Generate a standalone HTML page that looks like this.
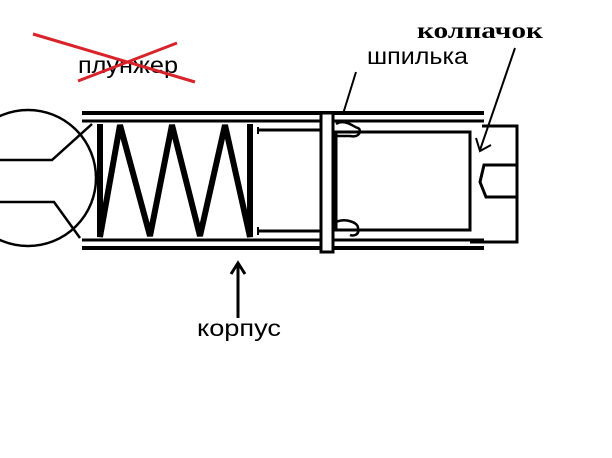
<!DOCTYPE html>
<html><head><meta charset="utf-8"><style>
html,body{margin:0;padding:0;background:#fff;width:612px;height:458px;overflow:hidden}
text{font-family:"Liberation Sans",sans-serif}
</style></head><body>
<svg width="612" height="458" viewBox="0 0 612 458" xmlns="http://www.w3.org/2000/svg">
<rect width="612" height="458" fill="#fff"/>
<g stroke="#000" fill="none">
<circle cx="28" cy="178" r="68" stroke-width="2.5"/>
<polyline points="0,160 52,160 92,124" stroke-width="2.5"/>
<polyline points="0,202 54,202 80,238" stroke-width="2.5"/>
<line x1="82" y1="113" x2="484" y2="113" stroke-width="4"/>
<line x1="82" y1="121" x2="484" y2="121" stroke-width="3"/>
<line x1="82" y1="240" x2="484" y2="240" stroke-width="3"/>
<line x1="82" y1="248" x2="484" y2="248" stroke-width="4"/>
<polyline points="100,124 100,237 120,125 150,236 172,125 200,236 225,125 250,237 250,124" stroke-width="6" stroke-linejoin="miter"/>
<line x1="258" y1="130" x2="320" y2="130" stroke-width="3"/>
<line x1="258" y1="231" x2="320" y2="231" stroke-width="3"/>
<line x1="258" y1="127" x2="258" y2="134" stroke-width="2"/>
<line x1="258" y1="227" x2="258" y2="235" stroke-width="2"/>
<rect x="336" y="132" width="134" height="98" stroke-width="3"/>
<path d="M336,124 C345,118 355,128 358,128 C362,130 360,138 350,136 L336,136" stroke-width="2.5"/>
<path d="M336,222 C345,218 358,222 358,228 C360,236 352,236 350,235" stroke-width="2.5"/>
<rect x="321" y="113" width="12" height="139" fill="#fff" stroke-width="3"/>
<polyline points="482,126 517,126 517,242 470,242" stroke-width="3"/>
<polyline points="517,165 484,165 480,182 486,197 517,197" stroke-width="3"/>
<line x1="356" y1="72" x2="343" y2="114" stroke-width="2"/>
<line x1="515" y1="48" x2="480" y2="150" stroke-width="2"/>
<polyline points="476,138 480,151 491,145" stroke-width="2"/>
<line x1="238" y1="264" x2="238" y2="318" stroke-width="3"/>
<polyline points="231,274 238,263 245,274" stroke-width="3"/>
</g>
<text x="78" y="73" font-size="23" fill="#000" textLength="100" lengthAdjust="spacingAndGlyphs">плунжер</text>
<g stroke="#d8232a" stroke-width="3">
<line x1="33" y1="34" x2="195" y2="82"/>
<line x1="78" y1="81" x2="177" y2="43"/>
</g>
<text x="367" y="64" font-size="23" fill="#000" textLength="101" lengthAdjust="spacingAndGlyphs">шпилька</text>
<text x="417" y="38" font-size="23" font-weight="bold" fill="#000" style="font-family:'Liberation Serif',serif" textLength="126" lengthAdjust="spacingAndGlyphs">колпачок</text>
<text x="197" y="336" font-size="23" fill="#000" textLength="84" lengthAdjust="spacingAndGlyphs">корпус</text>
</svg>
</body></html>
